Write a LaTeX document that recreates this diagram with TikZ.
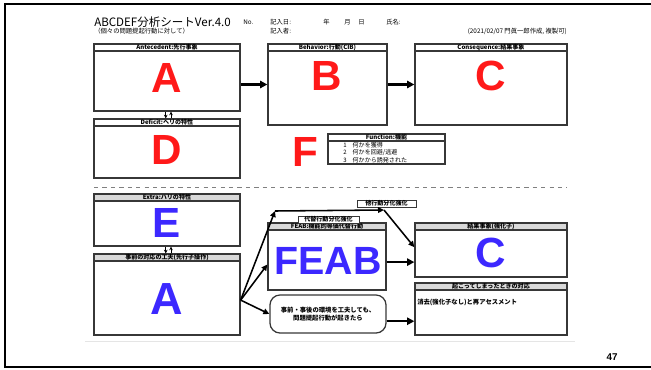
\documentclass[tikz,border=0pt]{standalone}
\usepackage{fontspec}
\setmainfont{Noto Sans CJK JP}
\newfontfamily\latinbold{Liberation Sans}
\usetikzlibrary{arrows.meta,positioning}
\definecolor{MarkRed}{RGB}{255,25,25}
\definecolor{MarkBlue}{RGB}{60,40,255}
\definecolor{HeadGray}{RGB}{217,217,217}
\definecolor{LineGray}{RGB}{55,55,55}
\tikzset{
  sheetbox/.style={draw=LineGray,line width=0.9pt,inner sep=0pt},
  headbar/.style={draw=LineGray,line width=0.9pt,fill=white,inner sep=0pt,
    minimum height=0.175cm,anchor=north,font=\fontsize{4.3}{5}\selectfont\bfseries},
  grayhead/.style={headbar,fill=HeadGray},
  tagbox/.style={draw=LineGray,line width=0.7pt,fill=white,inner sep=0pt,
    minimum height=0.175cm,font=\fontsize{4.3}{5}\selectfont\bfseries},
  bigred/.style={inner sep=0pt,text=MarkRed,font=\latinbold\bfseries\fontsize{30}{30}\selectfont},
  bigblue/.style={inner sep=0pt,text=MarkBlue,font=\latinbold\bfseries\fontsize{30}{30}\selectfont},
  small/.style={inner sep=0pt,font=\fontsize{4.5}{6}\selectfont},
  arrow/.style={-{Triangle[length=1.8mm,width=1.8mm]},line width=1.6pt},
  branch/.style={-{Triangle[length=1.5mm,width=1.4mm]},line width=1.1pt},
  pairarrow/.style={-{Stealth[length=0.9mm,width=0.9mm]},line width=0.5pt}
}
\begin{document}
\begin{tikzpicture}[x=0.025cm,y=-0.025cm]
  \useasboundingbox (0,0) rectangle (651,369);
  \draw[line width=1.4pt] (651,4) -- (5,4) -- (5,367) -- (651,367);

  % title block
  \node[anchor=west,inner sep=0pt,font=\fontsize{8.2}{9}\selectfont] (title) at (94,22) {ABCDEF分析シートVer.4.0};
  \node[anchor=west,small] (subtitle) at (94,31) {（個々の問題提起行動に対して）};
  \node[anchor=west,small] (no) at (243,22) {No.};
  \node[anchor=west,small] (date) at (270,22) {記入日:};
  \node[anchor=west,small] (year) at (323,22) {年};
  \node[anchor=west,small] (month) at (344,22) {月};
  \node[anchor=west,small] (day) at (358,22) {日};
  \node[anchor=west,small] (name) at (386,22) {氏名:};
  \node[anchor=west,small] (writer) at (270,31) {記入者:};
  \node[anchor=east,small] (credit) at (567,31) {(2021/02/07 門眞一郎作成, 複製可)};

  % upper half
  \node[sheetbox,minimum width=3.65cm,minimum height=1.675cm] (ante) at (167,77.5) {};
  \node[headbar,minimum width=3.65cm] (antehd) at (ante.north) {Antecedent:先行事象};
  \node[sheetbox,minimum width=2.975cm,minimum height=2.025cm] (beh) at (327.5,84.5) {};
  \node[headbar,minimum width=2.975cm] (behhd) at (beh.north) {Behavior:行動(CIB)};
  \node[sheetbox,minimum width=3.8cm,minimum height=2.025cm] (cons) at (491,84.5) {};
  \node[headbar,minimum width=3.8cm] (conshd) at (cons.north) {Consequence:結果事象};
  \node[sheetbox,minimum width=3.65cm,minimum height=1.475cm] (defi) at (167,148.5) {};
  \node[headbar,minimum width=3.65cm] (defihd) at (defi.north) {Deficit:ヘリの特性};
  \node[sheetbox,minimum width=2.925cm,minimum height=0.75cm] (func) at (386.5,149) {};
  \node[headbar,minimum width=2.925cm] (funchd) at (func.north) {Function:機能};
  \node[anchor=north west,inner sep=0pt,align=left,font=\fontsize{4.3}{5.3}\selectfont] (funclist) at (343,142)
    {1\quad 何かを獲得\\2\quad 何かを回避/逃避\\3\quad 何かから誘発された};

  \node[bigred] (la) at (167,78) {A};
  \node[bigred] (lb) at (327,76) {B};
  \node[bigred] (lc) at (491,76) {C};
  \node[bigred] (ld) at (167,150) {D};
  \node[bigred] (lf) at (305,152) {F};

  \draw[arrow] (ante.east |- beh) -- (beh.west);
  \draw[arrow] (beh.east) -- (cons.west);
  \draw[pairarrow] ([xshift=-0.03cm]ante.south) -- ([xshift=-0.03cm]defi.north);
  \draw[pairarrow] ([xshift=0.1cm]defi.north) -- ([xshift=0.1cm]ante.south);

  \draw[dashed,gray,line width=0.7pt] (94,187) -- (567,187);

  % lower half
  \node[sheetbox,minimum width=3.65cm,minimum height=1.3cm] (extra) at (167,220) {};
  \node[grayhead,minimum width=3.65cm] (extrahd) at (extra.north) {Extra:ハリの特性};
  \node[sheetbox,minimum width=3.65cm,minimum height=2.025cm] (pre) at (167,294.5) {};
  \node[grayhead,minimum width=3.65cm] (prehd) at (pre.north) {事前の対応の工夫(先行子操作)};
  \node[sheetbox,minimum width=2.95cm,minimum height=1.675cm] (feab) at (327,256.5) {};
  \node[grayhead,minimum width=2.95cm] (feabhd) at (feab.north) {FEAB:機能的等価代替行動};
  \node[tagbox,minimum width=1.525cm] (alt) at (328.5,219.5) {代替行動分化強化};
  \node[tagbox,minimum width=1.475cm] (other) at (386.5,203.5) {他行動分化強化};
  \node[sheetbox,minimum width=3.8cm,minimum height=1.35cm] (rein) at (491,250) {};
  \node[grayhead,minimum width=3.8cm] (reinhd) at (rein.north) {結果事象(強化子)};
  \node[sheetbox,minimum width=3.8cm,minimum height=1.3cm] (after) at (491,309) {};
  \node[grayhead,minimum width=3.8cm] (afterhd) at (after.north) {起こってしまったときの対応};
  \node[anchor=west,small,font=\fontsize{4.5}{6}\selectfont\bfseries] (ext) at (417,302) {消去(強化子なし)と再アセスメント};
  \node[sheetbox,rounded corners=2.5mm,minimum width=2.9cm,minimum height=0.95cm,
        align=center,font=\fontsize{4.5}{6.2}\selectfont\bfseries] (cope) at (328,314)
    {事前・事後の環境を工夫しても、\\問題提起行動が起きたら};

  \node[bigblue] (le) at (167,223) {E};
  \node[bigblue,font=\latinbold\bfseries\fontsize{32}{32}\selectfont] (la2) at (167,299) {A};
  \node[bigblue,font=\latinbold\bfseries\fontsize{28}{28}\selectfont] (lfeab) at (328,261) {FEAB};
  \node[bigblue] (lc2) at (491,253) {C};

  \draw[pairarrow] ([xshift=-0.03cm]extra.south) -- ([xshift=-0.03cm]pre.north);
  \draw[pairarrow] ([xshift=0.1cm]pre.north) -- ([xshift=0.1cm]extra.south);

  \coordinate (fork) at ([yshift=-0.14cm]pre.east);
  \coordinate (bend) at (275,211);
  \coordinate (turn) at (384,210);
  \draw[branch] (fork) -- (bend);
  \draw[branch] (bend) -- (turn);
  \draw[branch] (turn) -- ([yshift=0.07cm]rein.west);
  \draw[branch] (fork) -- ([yshift=-0.2cm]feab.west);
  \draw[branch] (fork) -- (cope.west);
  \draw[arrow] ([yshift=-0.14cm]feab.east) -- ([yshift=-0.14cm]feab.east -| rein.west);
  \draw[arrow] ([yshift=-0.18cm]cope.east) -- ([yshift=-0.18cm]cope.east -| after.west);

  \draw[gray!20,line width=0.6pt] (85,341) -- (575,341);
  \node[inner sep=0pt,font=\latinbold\bfseries\fontsize{7}{8}\selectfont] (page) at (612,357) {47};
\end{tikzpicture}
\end{document}
